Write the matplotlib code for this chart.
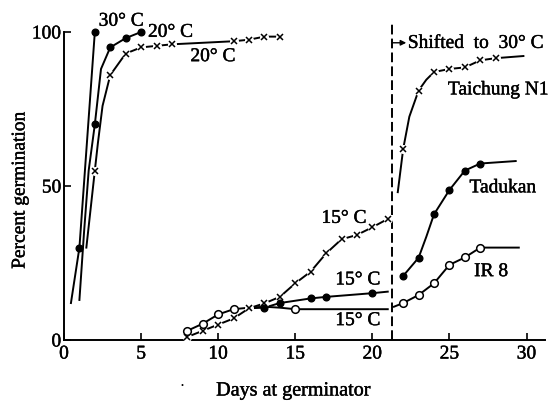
import matplotlib.pyplot as plt
import matplotlib.patheffects as pe

plt.rcParams['font.family'] = ['Liberation Serif', 'DejaVu Serif']
plt.rcParams['lines.scale_dashes'] = False

# 30 C, solid dots
d30_x = [1, 2]
d30_y = [30, 100]
d30_line_x = [0.45, 1, 1.5, 2]
d30_line_y = [12, 30, 65, 100]

# 20 C, solid dots
d20_x = [2, 3, 4, 5]
d20_y = [70, 95, 98, 100]
d20_line_x = [1.0, 1.3, 1.6, 2, 2.4, 3, 4, 5]
d20_line_y = [13, 35, 55, 70, 88, 95, 98, 100]

# 20 C, crosses
x20_x = [2, 3, 4, 5, 6, 7, 11, 12, 13, 14]
x20_y = [55, 86, 93, 95, 95.5, 96, 97, 97.5, 98.5, 98.5]
x20_line_x = [1.45, 2, 2.2, 2.5, 3, 4, 5, 6, 7, 11, 12, 13, 14]
x20_line_y = [30, 55, 64, 76, 86, 93, 95, 95.5, 96, 97, 97.5, 98.5, 98.5]

# 15 C, crosses (Taichung N1)
x15_x = [8, 9, 10, 11, 12, 13, 14, 15, 16, 17, 18, 19, 20, 21]
x15_y = [1, 3, 5, 7, 10.3, 11.9, 14, 18.4, 22.2, 28.1, 32.7, 34.1, 36.6, 39.3]

# 15 C, solid dots (Tadukan)
d15_x = [13, 14, 16, 17, 20]
d15_y = [10.5, 12, 13.5, 14, 15.2]
d15_line_x = [12, 13, 14, 16, 17, 20, 21]
d15_line_y = [10.3, 10.5, 12, 13.5, 14, 15.2, 15.7]

# 15 C, open circles (IR 8)
c15_x = [8, 9, 10, 11, 15]
c15_y = [3, 5.3, 8.3, 10, 10]
c15_line_x = [8, 9, 10, 11, 12, 13, 14, 15, 21]
c15_line_y = [3, 5.3, 8.3, 10, 10.5, 10.8, 10.5, 10, 10]

# after shift to 30 C
shift_day = 21.3
xs_x = [22, 23, 24, 25, 26, 27, 28]
xs_y = [62, 81, 87, 88, 88.5, 90.8, 91.5]
xs_line_x = [21.65, 22, 22.4, 23, 23.5, 24, 25, 26, 27, 28, 29.8]
xs_line_y = [48, 62, 72.5, 81, 84.5, 87, 88, 88.5, 90.8, 91.5, 92.2]

ds_x = [22, 23, 24, 25, 26, 27]
ds_y = [20.8, 26.7, 40.8, 48.7, 55, 57.3]
ds_line_x = [22, 23, 23.5, 24, 25, 26, 27, 29.3]
ds_line_y = [20.8, 26.7, 33.5, 40.8, 48.7, 55, 57.3, 58.1]

cs_x = [22, 23, 24, 25, 26, 27]
cs_y = [12, 14.6, 18.4, 24.4, 26.8, 30]
cs_line_x = [21.4, 22, 23, 24, 25, 26, 27, 29.5]
cs_line_y = [10.8, 12, 14.6, 18.4, 24.4, 26.8, 30, 30]

fig = plt.figure(figsize=(5.49, 4.01), dpi=100)
ax = fig.add_axes([64 / 549, 1 - 340 / 401, 481 / 549, 308 / 401])


def draw(line_x, line_y, mx, my, kind):
    ax.plot(line_x, line_y, color='black', lw=1.4, zorder=2, clip_on=False)
    if kind == 'x':
        ax.plot(mx, my, 'o', ms=6.5, mfc='white', mec='none', zorder=3, clip_on=False)
        ax.plot(mx, my, 'x', ms=4.5, mew=1.1, color='black', zorder=4, clip_on=False)
    elif kind == 'dot':
        ax.plot(mx, my, 'o', ms=4.8, mfc='black', mec='black', zorder=4, clip_on=False)
    else:
        ax.plot(mx, my, 'o', ms=5.5, mfc='white', mec='black', mew=1.1, zorder=4, clip_on=False)


draw(d30_line_x, d30_line_y, d30_x, d30_y, 'dot')
draw(d20_line_x, d20_line_y, d20_x, d20_y, 'dot')
draw(x20_line_x, x20_line_y, x20_x, x20_y, 'x')
draw(x15_x, x15_y, x15_x, x15_y, 'x')
draw(d15_line_x, d15_line_y, d15_x, d15_y, 'dot')
draw(c15_line_x, c15_line_y, c15_x, c15_y, 'o')
draw(xs_line_x, xs_line_y, xs_x, xs_y, 'x')
draw(ds_line_x, ds_line_y, ds_x, ds_y, 'dot')
draw(cs_line_x, cs_line_y, cs_x, cs_y, 'o')

ax.plot([shift_day, shift_day], [0, 103.4], color='black', lw=1.4,
        dashes=(7, 3), clip_on=False, zorder=1)
ax.annotate('', xy=(22.2, 96.5), xytext=(shift_day, 96.5),
            arrowprops=dict(arrowstyle='-|>', color='black', lw=1.0,
                            mutation_scale=8, shrinkA=0, shrinkB=0),
            annotation_clip=False)

fs = 14
bold = [pe.withStroke(linewidth=0.3, foreground='black')]
labels = [
    (2.25, 103.5, '30° C'),
    (5.45, 99.9, '20° C'),
    (8.2, 92, '20° C'),
    (16.7, 39.5, '15° C'),
    (17.6, 19.5, '15° C'),
    (17.6, 6.3, '15° C'),
    (22.3, 96.3, 'Shifted  to  30° C'),
    (24.9, 81.2, 'Taichung N1'),
    (26.3, 49.4, 'Tadukan'),
    (26.6, 22.2, 'IR 8'),
]
for lx, ly, s in labels:
    ax.text(lx, ly, s, fontsize=fs, va='center', clip_on=False, path_effects=bold)
ax.text(7.66, -15, '•', fontsize=6, ha='center', va='center', clip_on=False)

ax.set_xlim(0, 31.2)
ax.set_ylim(0, 100)
ax.set_xticks([0, 5, 10, 15, 20, 25, 30])
ax.set_yticks([0, 50, 100])
ax.tick_params(direction='in', length=5, width=1.2, labelsize=fs)
ax.tick_params(axis='x', pad=4)
ax.tick_params(axis='y', pad=2)
for t in ax.get_xticklabels() + ax.get_yticklabels():
    t.set_path_effects(bold)
for side in ['top', 'right']:
    ax.spines[side].set_visible(False)
for side in ['left', 'bottom']:
    ax.spines[side].set_linewidth(1.4)

fig.text(293 / 549, 1 - 391 / 401, 'Days at germinator', fontsize=14.5,
         ha='center', va='center', path_effects=bold)
fig.text(20 / 549, 1 - 190 / 401, 'Percent germination', fontsize=fs,
         ha='center', va='center', rotation=90, path_effects=bold)

fig.savefig('out.png', dpi=100)
